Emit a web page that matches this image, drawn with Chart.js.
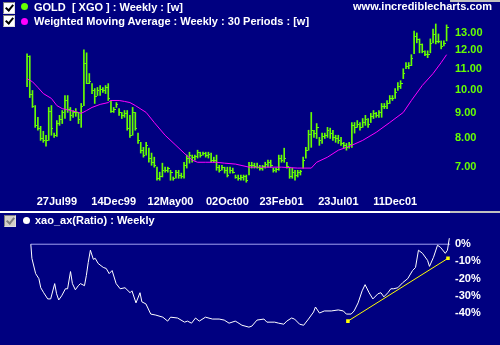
<!DOCTYPE html>
<html>
<head>
<meta charset="UTF-8">
<script src="https://cdn.jsdelivr.net/npm/chart.js@4"></script>
<title>GOLD XGO weekly</title>
<style>
  body { margin:0; background:#000080; width:500px; height:345px; overflow:hidden; position:relative;
         font-family:"Liberation Sans", Arial, sans-serif; font-weight:bold; font-size:11px; color:#fff; }
  canvas { position:absolute; left:0; }
  #top { top:0; }
  #bot { top:213px; }
  .hd { position:absolute; white-space:pre; line-height:13px; z-index:2; }
  .cb { position:absolute; width:12px; height:12px; background:#fff; box-sizing:border-box;
        border-top:1px solid #808080; border-left:1px solid #808080; border-right:1px solid #dfdfdf; border-bottom:1px solid #dfdfdf; z-index:2; }
  .cb::after { content:''; position:absolute; left:3px; top:0; width:3px; height:6px;
               border:solid #000; border-width:0 2px 2px 0; transform:rotate(40deg); }
  .cb.off { background:#d4d0c8; }
  .cb.off::after { border-color:#808080; }
  .dot { position:absolute; width:7px; height:7px; border-radius:50%; z-index:2; }
  .sep { position:absolute; height:2px; }
</style>
</head>
<body>
  <div class="cb" style="left:3px;top:2px"></div>
  <div class="cb" style="left:3px;top:15px"></div>
  <div class="dot" style="left:21px;top:3px;background:#66ff00"></div>
  <div class="dot" style="left:21px;top:18px;background:#ff00ff"></div>
  <div class="hd" style="left:34px;top:1px">GOLD  [ XGO ] : Weekly : [w]</div>
  <div class="hd" style="left:34px;top:15px">Weighted Moving Average : Weekly : 30 Periods : [w]</div>
  <div class="hd" style="right:8px;top:0px">www.incrediblecharts.com</div>
  <div class="sep" style="left:450px;top:0;width:50px;background:#c0c0c0"></div>

  <canvas id="top" width="500" height="211"></canvas>
  <div class="sep" style="left:0;top:211px;width:450px;background:#ffffff"></div>
  <div class="sep" style="left:450px;top:211px;width:50px;background:#c0c0c0"></div>

  <div class="cb off" style="left:4px;top:215px"></div>
  <div class="dot" style="left:23px;top:217px;background:#ffffff"></div>
  <div class="hd" style="left:35px;top:214px">xao_ax(Ratio) : Weekly</div>
  <canvas id="bot" width="500" height="132"></canvas>

<script>
// x axis date labels and the week number they sit on
const dateLabels = ['27Jul99', '14Dec99', '12May00', '02Oct00', '23Feb01', '23Jul01', '11Dec01'];
const labelWeeks = [11, 32, 53, 74, 94, 115, 136];

const priceTicks = [7, 8, 9, 10, 11, 12, 13];
const ratioTicks = [0, -10, -20, -30, -40];

// weekly bars, week 0 .. 155
const hi = [
  11.81,11.70,9.97,9.30,8.81,8.45,8.26,8.11,9.22,9.30,
  8.19,8.68,8.89,9.09,9.74,9.74,9.22,9.09,9.17,9.01,
  9.39,12.03,11.86,10.78,10.29,10.06,10.11,10.20,10.11,10.20,
  10.29,9.52,9.22,9.43,9.17,9.01,9.09,9.09,8.89,9.22,
  9.01,8.19,7.85,7.67,7.85,7.64,7.47,7.33,7.00,6.84,
  7.13,7.00,7.00,6.90,6.69,6.90,6.90,6.81,7.16,7.40,
  7.50,7.40,7.40,7.57,7.50,7.50,7.50,7.50,7.47,7.33,
  7.40,7.06,7.06,7.00,7.00,7.00,6.97,6.75,6.75,6.75,
  6.75,6.75,7.16,7.16,7.13,7.13,7.06,7.06,7.16,7.23,
  7.23,6.97,6.97,7.40,7.40,7.64,7.16,7.00,6.97,6.90,
  6.90,6.90,7.33,7.67,8.30,9.01,8.30,8.56,8.03,8.19,
  8.19,8.41,8.38,8.30,8.11,8.11,8.03,7.85,7.81,7.85,
  8.60,8.60,8.68,8.60,8.76,8.89,8.76,8.97,9.09,9.01,
  9.09,9.39,9.39,9.52,9.74,9.74,10.06,10.34,10.43,11.02,
  11.34,11.34,11.76,13.12,13.00,12.65,12.36,11.97,11.97,12.65,
  13.24,13.55,12.94,12.53,12.53,13.49
];
const lo = [
  10.15,9.65,9.22,8.41,8.30,7.92,7.85,7.71,7.92,8.11,
  8.03,8.07,8.49,8.56,8.76,9.01,8.68,8.81,8.85,8.56,
  8.41,9.30,10.29,10.29,9.83,9.39,9.74,9.74,9.88,9.83,
  9.52,9.01,9.01,9.22,8.89,8.76,8.81,8.30,8.03,8.11,
  8.30,7.81,7.47,7.33,7.40,7.16,7.06,7.00,6.59,6.59,
  6.69,6.84,6.84,6.59,6.59,6.65,6.65,6.65,6.65,6.97,
  7.13,7.16,7.23,7.30,7.33,7.40,7.33,7.30,7.16,7.16,
  6.90,6.84,6.90,6.81,6.69,6.81,6.81,6.65,6.59,6.59,
  6.59,6.53,6.75,6.97,6.97,6.97,6.90,6.90,6.97,7.00,
  7.00,6.84,6.84,6.90,7.16,7.16,6.97,6.65,6.65,6.59,
  6.69,6.75,6.97,7.30,7.57,7.67,8.03,7.99,7.74,7.81,
  7.99,8.03,7.99,7.92,7.85,7.81,7.74,7.64,7.57,7.64,
  7.67,8.19,8.41,8.30,8.41,8.49,8.41,8.60,8.76,8.81,
  8.81,8.81,9.17,9.17,9.39,9.52,9.61,9.97,10.06,10.53,
  11.02,11.02,11.18,11.81,12.42,11.86,11.86,11.70,11.60,11.86,
  12.42,12.36,12.42,12.08,12.25,12.53
];
const cl = [
  11.70,9.83,9.30,8.49,8.38,7.99,7.92,7.92,9.09,8.38,
  8.11,8.60,8.76,9.01,9.52,9.17,8.89,9.01,9.01,8.76,
  9.30,11.34,10.34,10.43,9.97,9.74,9.97,10.06,9.97,10.11,
  9.61,9.09,9.17,9.35,9.01,8.89,8.97,8.38,8.11,9.01,
  8.38,7.92,7.57,7.40,7.74,7.30,7.16,7.06,6.65,6.72,
  6.90,6.90,6.97,6.84,6.65,6.84,6.75,6.72,7.06,7.30,
  7.40,7.33,7.37,7.50,7.40,7.47,7.40,7.43,7.23,7.23,
  7.00,6.90,7.00,6.90,6.75,6.90,6.84,6.69,6.65,6.69,
  6.72,6.59,7.06,7.06,7.03,7.00,6.97,7.03,7.10,7.16,
  7.06,6.90,6.94,7.30,7.23,7.30,7.03,6.72,6.84,6.75,
  6.84,6.87,7.23,7.57,8.15,8.30,8.19,8.41,7.92,8.07,
  8.11,8.30,8.19,8.03,7.99,7.92,7.81,7.74,7.67,7.78,
  8.49,8.41,8.56,8.41,8.64,8.76,8.56,8.85,8.97,8.89,
  9.01,9.26,9.30,9.39,9.61,9.65,9.92,10.20,10.34,10.82,
  11.18,11.23,11.60,12.82,12.65,12.36,11.97,11.81,11.81,12.42,
  12.94,12.53,12.53,12.25,12.42,13.37
];

// 30 period weighted moving average, read at these weeks
const wmaWeeks = [0,2,4,6,9,11,13,16,19,20,22,24,27,30,31,34,36,38,40,44,47,51,55,58,61,63,66,70,73,77,82,87,94,100,105,107,111,115,119,124,129,134,139,142,146,150,153,155];
const wmaVals  = [10.53,10.38,10.11,9.83,9.61,9.30,9.17,9.09,9.01,8.97,9.09,9.22,9.35,9.43,9.52,9.52,9.48,9.43,9.30,9.01,8.60,8.11,7.74,7.47,7.23,7.16,7.16,7.16,7.13,7.10,7.00,7.00,7.00,6.97,6.97,7.16,7.33,7.57,7.70,7.92,8.22,8.60,9.01,9.52,10.20,10.78,11.34,11.76];

// ratio vs XAO (%)
const ratioWeeks = [0,0.4,1.8,3.0,3.7,4.8,6.3,7.4,8.9,9.6,
  10.4,11.5,12.9,13.7,14.8,15.5,16.6,17.7,18.5,20.0,
  20.7,21.4,22.2,23.3,24.0,25.1,27.0,28.1,29.2,30.3,
  31.8,33.3,35.1,37.0,37.7,39.2,40.7,41.4,42.9,44.7,
  46.6,49.2,51.0,52.1,54.7,57.3,58.4,59.9,61.4,62.8,
  65.1,67.7,70.2,72.1,73.9,76.2,76.9,78.7,81.3,82.4,
  84.3,86.9,88.0,90.9,92.4,94.3,95.4,97.2,98.3,100.2,
  101.7,103.5,105.4,106.1,107.6,109.4,112.0,114.6,116.5,117.6,
  119.4,120.5,122.0,123.5,124.6,126.1,127.5,129.4,130.5,131.6,
  133.1,134.2,135.3,136.8,138.6,140.5,142.3,143.4,144.5,146.0,
  147.9,148.6,150.1,151.6,152.7,154.5,155.3,156.0];
const ratioPct = [0,-8.2,-17.1,-20.0,-25.3,-28.2,-31.8,-31.8,-22.9,-28.8,
  -32.4,-30.0,-25.9,-25.9,-15.9,-22.9,-26.5,-24.1,-22.9,-24.1,
  -18.2,-10.6,-3.5,-8.8,-8.2,-11.2,-13.5,-14.1,-17.1,-15.3,
  -22.9,-25.9,-25.3,-28.2,-27.1,-34.1,-28.2,-33.5,-34.7,-40.6,
  -41.2,-42.4,-44.7,-42.4,-42.9,-45.3,-44.7,-45.9,-42.9,-44.7,
  -42.4,-43.5,-43.5,-44.1,-45.9,-44.7,-45.3,-47.1,-48.2,-47.6,
  -44.1,-43.5,-45.3,-45.3,-45.9,-46.5,-44.7,-42.9,-43.5,-46.5,
  -47.1,-43.5,-39.4,-36.5,-40.0,-38.8,-38.8,-38.2,-38.8,-40.6,
  -40.6,-38.8,-34.1,-27.1,-23.5,-28.2,-31.8,-28.8,-28.2,-30.6,
  -28.2,-25.9,-25.9,-25.3,-22.4,-20.0,-15.3,-13.5,-3.5,-5.3,
  -9.4,-12.9,-7.6,-0.6,-1.8,-5.3,-3.5,3.5];

// hand drawn trendline and the 0% reference
const trendWeeks = [118.2, 155.5];
const trendPct = [-44.7, -8.2];
const zeroWeeks = [0, 156.3];

const GREEN = '#66ff00';
const tickFont = { family: 'Liberation Sans', size: 11, weight: 'bold' };

Chart.defaults.font.family = 'Liberation Sans';

// right-hand close tick on each bar
const closeTicks = {
  id: 'closeTicks',
  afterDatasetsDraw(chart) {
    const { ctx, scales: { x, y } } = chart;
    ctx.save();
    ctx.fillStyle = GREEN;
    cl.forEach((c, i) => {
      const px = Math.round(x.getPixelForValue(i));
      const py = Math.round(y.getPixelForValue(c));
      ctx.fillRect(px, py, 2, 1);
    });
    ctx.restore();
  }
};

new Chart(document.getElementById('top'), {
  type: 'bar',
  data: {
    datasets: [
      {
        type: 'line',
        data: wmaWeeks.map((w, i) => ({ x: w, y: wmaVals[i] })),
        borderColor: '#ff00ff',
        borderWidth: 1,
        pointRadius: 0,
        tension: 0,
        order: 1
      },
      {
        type: 'bar',
        data: hi.map((h, i) => ({ x: i, y: [lo[i], h] })),
        backgroundColor: GREEN,
        barThickness: 1,
        order: 2
      }
    ]
  },
  options: {
    responsive: false,
    animation: false,
    layout: { padding: { top: 20, left: 0, right: 0, bottom: 0 } },
    plugins: { legend: { display: false }, tooltip: { enabled: false } },
    scales: {
      x: {
        type: 'linear', min: -10, max: 157, offset: false,
        grid: { display: false, drawTicks: false }, border: { display: false },
        afterBuildTicks: s => { s.ticks = labelWeeks.map(v => ({ value: v })); },
        afterFit: s => { s.height = 21; },
        ticks: {
          color: '#ffffff', font: tickFont, padding: 5, autoSkip: false, maxRotation: 0,
          callback: v => dateLabels[labelWeeks.indexOf(v)]
        }
      },
      y: {
        type: 'logarithmic', position: 'right', min: 6.33, max: 13.80,
        grid: { display: false, drawTicks: false }, border: { display: false },
        afterBuildTicks: s => { s.ticks = priceTicks.map(v => ({ value: v })); },
        afterFit: s => { s.width = 48; },
        ticks: { color: GREEN, font: tickFont, padding: 3, callback: v => Number(v).toFixed(2) }
      }
    }
  },
  plugins: [closeTicks]
});

new Chart(document.getElementById('bot'), {
  type: 'line',
  data: {
    datasets: [
      {
        data: trendWeeks.map((w, i) => ({ x: w, y: trendPct[i] })),
        borderColor: '#ffff00', borderWidth: 1,
        pointStyle: 'rect', pointRadius: 2.5, pointBackgroundColor: '#ffff00', pointBorderWidth: 0
      },
      {
        data: ratioWeeks.map((w, i) => ({ x: w, y: ratioPct[i] })),
        borderColor: '#ffffff', borderWidth: 1, pointRadius: 0, tension: 0
      },
      {
        data: zeroWeeks.map(w => ({ x: w, y: 0 })),
        borderColor: '#a0a0f0', borderWidth: 1, pointRadius: 0
      }
    ]
  },
  options: {
    responsive: false,
    animation: false,
    layout: { padding: { top: 14, left: 0, right: 0, bottom: 7.5 } },
    plugins: { legend: { display: false }, tooltip: { enabled: false } },
    scales: {
      x: { type: 'linear', min: -10, max: 157, offset: false, display: false },
      y: {
        position: 'right', min: -53, max: 10,
        grid: { display: false, drawTicks: false }, border: { display: false },
        afterBuildTicks: s => { s.ticks = ratioTicks.map(v => ({ value: v })); },
        afterFit: s => { s.width = 48; },
        ticks: { color: '#ffffff', font: tickFont, padding: 3, callback: v => v + '%' }
      }
    }
  }
});
</script>
</body>
</html>
